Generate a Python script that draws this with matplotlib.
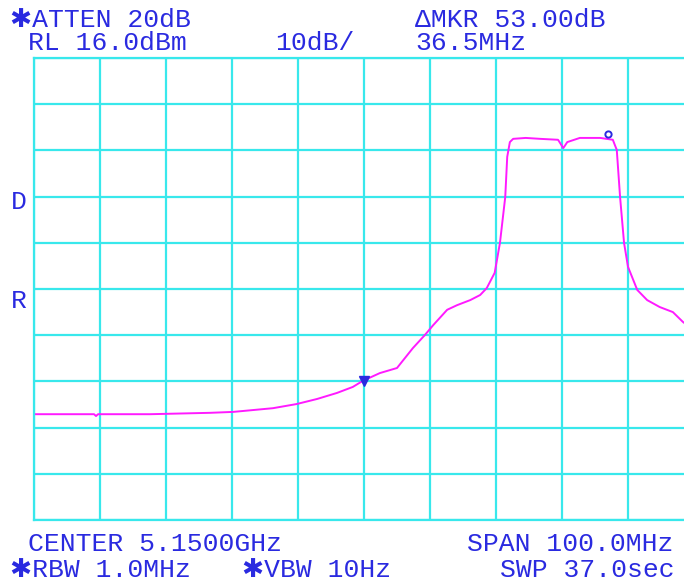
import matplotlib
matplotlib.use('Agg')
import matplotlib.pyplot as plt

# trace: frequency (MHz) and level (dBm)
freq = [5100.0, 5107.0, 5109.1, 5109.4, 5109.7, 5117.6, 5126.7, 5130.2, 5133.2,
        5136.2, 5139.8, 5142.9, 5145.9, 5148.3, 5149.8, 5152.4, 5155.0, 5157.4,
        5159.2, 5160.5, 5162.6, 5164.1, 5166.1, 5167.6, 5168.6, 5169.8, 5170.6,
        5171.4, 5171.7, 5172.1, 5172.6, 5174.5, 5176.7, 5179.4, 5180.2, 5180.8,
        5182.7, 5185.8, 5187.7, 5188.3, 5188.8, 5189.4, 5190.0, 5191.4, 5192.9,
        5194.8, 5196.8, 5198.3, 5200.0]
level = [-61.1, -61.1, -61.1, -61.5, -61.1, -61.1, -60.8, -60.6, -60.2,
         -59.8, -58.9, -57.8, -56.5, -55.2, -53.9, -52.2, -51.1, -46.8,
         -44.0, -41.8, -38.5, -37.5, -36.4, -35.3, -33.8, -30.5, -24.0,
         -14.1, -5.4, -2.2, -1.5, -1.3, -1.5, -1.7, -3.5, -2.2,
         -1.3, -1.3, -1.7, -3.9, -14.1, -24.0, -29.2, -34.2, -36.4,
         -37.9, -39.0, -41.1, -43.0]

mkr_ref = (5150.0, -53.9)   # reference marker (triangle)
mkr_delta = (5186.9, -0.4)  # delta marker

top_texts = [("\u2731ATTEN 20dB", 10, 27), ("RL 16.0dBm", 28, 50), ("10dB/", 275, 50),
             ("\u0394MKR 53.00dB", 415, 27), ("36.5MHz", 415, 50)]
bottom_texts = [("CENTER 5.1500GHz", 28, 551), ("SPAN 100.0MHz", 467, 551),
                ("\u2731RBW 1.0MHz", 10, 577), ("\u2731VBW 10Hz", 242, 577),
                ("SWP 37.0sec", 500, 577)]
side_texts = [("D", 11, 209), ("R", 11, 308)]

W, H = 684, 583
cyan = '#38e8ec'
blue = '#2a2ae0'

fig = plt.figure(figsize=(W / 100, H / 100), dpi=100)
ax = fig.add_axes([34 / W, 1 - 520 / H, 660 / W, 462 / H])
ax.set_xlim(5100, 5200)
ax.set_ylim(-84, 16)
ax.set_xticks(range(5100, 5201, 10))
ax.set_yticks(range(-84, 17, 10))
ax.tick_params(length=0, labelbottom=False, labelleft=False)
ax.grid(True, color=cyan, linewidth=1.6)
for s in ax.spines.values():
    s.set_color(cyan)
    s.set_linewidth(1.6)

ax.plot(freq, level, color='#ff1aff', linewidth=1.4)
ax.plot(*mkr_ref, marker='v', color=blue, markersize=7)
ax.plot(*mkr_delta, marker='o', mfc='none', mec=blue, mew=1.4, markersize=4.5)

font = ['Liberation Mono', 'DejaVu Sans']
for txt, x, y in top_texts + bottom_texts + side_texts:
    fig.text(x / W, 1 - y / H, txt, color=blue, family=font, fontsize=19,
             ha='left', va='baseline')

fig.savefig('out.png', dpi=100)
